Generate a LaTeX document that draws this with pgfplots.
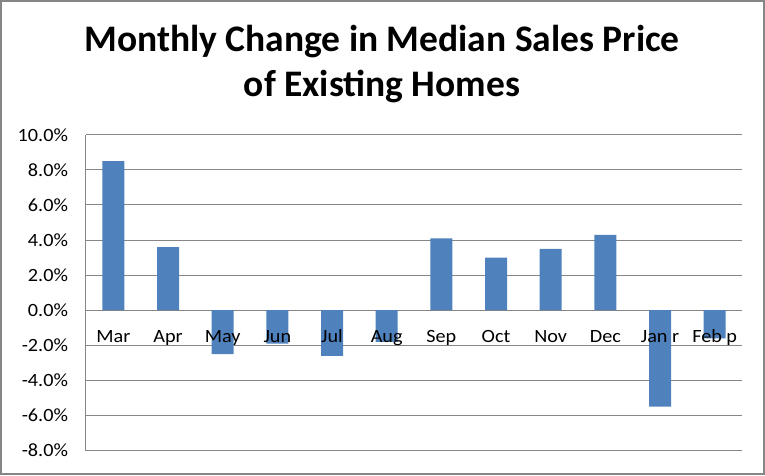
\documentclass[border=0pt]{standalone}
\usepackage{pgfplots}
\pgfplotsset{compat=1.18}
\usepackage{fontspec}
\setmainfont{Carlito}
\newfontfamily\tickfont{Carlito}[FakeStretch=1.08]
\definecolor{barblue}{HTML}{4F81BD}
\definecolor{gridgray}{HTML}{868686}
\tikzset{xlab/.style={anchor=base, yshift=-32.4pt, inner sep=0pt, font=\tickfont\fontsize{18.7}{22}\selectfont}}
\begin{document}
\begin{tikzpicture}
\begin{axis}[
  scale only axis, width=656pt, height=315.7pt,
  xmin=-0.5, xmax=11.5, ymin=-8, ymax=10,
  axis x line=middle, axis y line=left,
  axis line style={-, gridgray, line width=1pt},
  hide obscured y ticks=false,
  ytick={-8,-6,...,10},
  ymajorgrids, grid style={gridgray, line width=1pt},
  major tick length=0pt,
  xtick={0,...,11},
  xticklabels={},
  yticklabel style={xshift=-14.5pt, font=\tickfont\fontsize{18.7}{22}\selectfont},
  /pgf/number format/assume math mode=true,
  yticklabel={\pgfmathprintnumber[fixed,fixed zerofill,precision=1]{\tick}\%},
]
\addplot[ybar, bar width=22pt, fill=barblue, draw=none] coordinates {
 (0,8.5) (1,3.6) (2,-2.5) (3,-1.9) (4,-2.6) (5,-1.8)
 (6,4.1) (7,3.0) (8,3.5) (9,4.3) (10,-5.5) (11,-1.6)};
\node[xlab] at (axis cs:0,0) {Mar};
\node[xlab] at (axis cs:1,0) {Apr};
\node[xlab] at (axis cs:2,0) {May};
\node[xlab] at (axis cs:3,0) {Jun};
\node[xlab] at (axis cs:4,0) {Jul};
\node[xlab] at (axis cs:5,0) {Aug};
\node[xlab] at (axis cs:6,0) {Sep};
\node[xlab] at (axis cs:7,0) {Oct};
\node[xlab] at (axis cs:8,0) {Nov};
\node[xlab] at (axis cs:9,0) {Dec};
\node[xlab] at (axis cs:10,0) {Jan r};
\node[xlab] at (axis cs:11,0) {Feb p};
\end{axis}
\node[anchor=base, font=\fontsize{37.5}{40}\selectfont\bfseries] at (296pt,398.8pt) {Monthly Change in Median Sales Price};
\node[anchor=base, font=\fontsize{37.5}{40}\selectfont\bfseries] at (296pt,354.5pt) {of Existing Homes};
\draw[gridgray, line width=2pt] (-85pt,-23.5pt) rectangle (678pt,449.5pt);
\end{tikzpicture}
\end{document}
